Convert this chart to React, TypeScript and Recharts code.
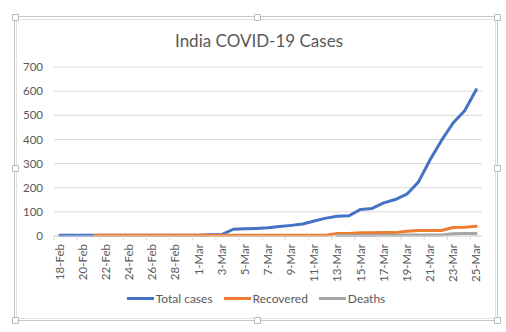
import React from "react";
import {
  LineChart,
  Line,
  XAxis,
  YAxis,
  CartesianGrid,
  Legend,
} from "recharts";

const dates = [
  "18-Feb", "19-Feb", "20-Feb", "21-Feb", "22-Feb", "23-Feb", "24-Feb", "25-Feb",
  "26-Feb", "27-Feb", "28-Feb", "29-Feb", "1-Mar", "2-Mar", "3-Mar", "4-Mar",
  "5-Mar", "6-Mar", "7-Mar", "8-Mar", "9-Mar", "10-Mar", "11-Mar", "12-Mar",
  "13-Mar", "14-Mar", "15-Mar", "16-Mar", "17-Mar", "18-Mar", "19-Mar", "20-Mar",
  "21-Mar", "22-Mar", "23-Mar", "24-Mar", "25-Mar",
];

const totalCases = [
  3, 3, 3, 3, 3, 3, 3, 3, 3, 3, 3, 3, 3, 5, 6, 28,
  30, 31, 34, 39, 44, 50, 62, 74,
  82, 84, 110, 114, 137, 151, 173, 223,
  315, 396, 468, 519, 606,
];

const recovered = [
  null, null, null, 3, 3, 3, 3, 3, 3, 3, 3, 3, 3, 3, 3, 3,
  3, 3, 3, 3, 3, 3, 3, 3,
  10, 10, 13, 13, 14, 14, 20, 23,
  23, 23, 35, 36, 40,
];

const deaths = [
  null, null, null, null, null, null, null, null, null, null, null, null, null, null, null, null,
  null, null, null, null, null, null, null, null,
  2, 2, 2, 2, 3, 3, 4, 4,
  4, 4, 9, 10, 10,
];

const yTicks = [0, 100, 200, 300, 400, 500, 600, 700];

const series = [
  { key: "total", name: "Total cases", color: "#4472C4" },
  { key: "recovered", name: "Recovered", color: "#ED7D31" },
  { key: "deaths", name: "Deaths", color: "#A5A5A5" },
];

const data = dates.map((d, i) => ({
  date: d,
  total: totalCases[i],
  recovered: recovered[i],
  deaths: deaths[i],
}));

const FONT = "Lato, 'Open Sans', sans-serif";
const TEXT = "#595959";
const HALF_STEP = 5.78;

function DateTick(props: any) {
  const { x, y, payload } = props;
  return (
    <g>
      <line x1={x - HALF_STEP} x2={x - HALF_STEP} y1={y} y2={y + 4} stroke="#d9d9d9" />
      <text
        x={x}
        y={y + 8}
        dy="0.35em"
        textAnchor="end"
        transform={`rotate(-90 ${x} ${y + 8})`}
        fill={TEXT}
        fontSize={11.5}
        fontFamily={FONT}
      >
        {payload.value}
      </text>
    </g>
  );
}

function LegendBox() {
  return (
    <div style={{ display: "flex", justifyContent: "center", gap: 11, paddingLeft: 6, fontFamily: FONT, fontSize: 12, color: TEXT }}>
      {series.map((s) => (
        <div key={s.key} style={{ display: "flex", alignItems: "center" }}>
          <span style={{ display: "inline-block", width: 27, height: 3, background: s.color, marginRight: 2 }} />
          <span>{s.name}</span>
        </div>
      ))}
    </div>
  );
}

const handle = (left: number, top: number) => (
  <div
    style={{
      position: "absolute",
      left: left - 3,
      top: top - 3,
      width: 5,
      height: 5,
      background: "#fff",
      border: "1px solid #b8b8b8",
      borderRadius: 1,
    }}
  />
);

export default function App() {
  return (
    <div style={{ position: "absolute", left: 0, top: 0, width: 506, height: 332, background: "#fff" }}>
      <div style={{ position: "absolute", left: 14, top: 16, width: 482, height: 303, border: "1px solid #c8c8c8" }} />
      <div style={{ position: "absolute", left: 16, top: 19, width: 478, height: 298, border: "1px solid #e0e0e0" }} />
      {handle(15, 17)}
      {handle(257, 17)}
      {handle(497, 17)}
      {handle(15, 168)}
      {handle(497, 168)}
      {handle(15, 320)}
      {handle(257, 320)}
      {handle(497, 320)}
      <div
        style={{
          position: "absolute",
          left: 0,
          width: 506,
          top: 30,
          textAlign: "center",
          fontFamily: FONT,
          fontSize: 17,
          color: TEXT,
          paddingLeft: 6,
        }}
      >
        India COVID-19 Cases
      </div>
      <div style={{ position: "absolute", left: 0, top: 0 }}>
        <LineChart width={506} height={332} data={data} margin={{ top: 67, right: 24, bottom: 66, left: 0 }}>
          <CartesianGrid vertical={false} stroke="#d9d9d9" />
          <XAxis
            dataKey="date"
            height={30}
            interval={1}
            padding={{ left: HALF_STEP, right: HALF_STEP }}
            axisLine={{ stroke: "#d9d9d9" }}
            tickLine={false}
            tickSize={0}
            tickMargin={0}
            tick={<DateTick />}
          />
          <YAxis
            width={54}
            domain={[0, 700]}
            ticks={yTicks}
            axisLine={false}
            tickLine={false}
            tickSize={0}
            tickMargin={11}
            tick={{ fill: TEXT, fontSize: 11.5, fontFamily: FONT }}
          />
          {series.map((s) => (
            <Line
              key={s.key}
              type="linear"
              dataKey={s.key}
              name={s.name}
              stroke={s.color}
              strokeWidth={3}
              strokeLinejoin="round"
              strokeLinecap="round"
              dot={false}
              isAnimationActive={false}
            />
          ))}
          <Legend
            layout="horizontal"
            verticalAlign="middle"
            content={<LegendBox />}
            wrapperStyle={{ position: "absolute", top: 291, left: 0, width: 506 }}
          />
        </LineChart>
      </div>
    </div>
  );
}
